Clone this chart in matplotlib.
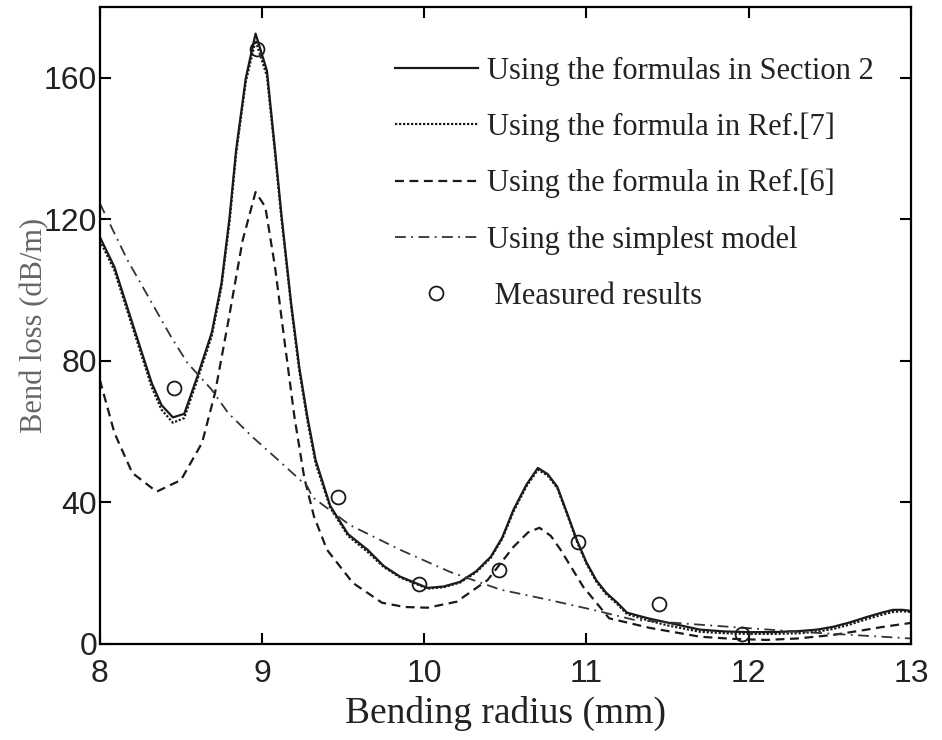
import matplotlib
matplotlib.use("Agg")
import matplotlib.pyplot as plt

# bending radius (mm) / bend loss (dB/m)
x_sec2 = [8.0, 8.09, 8.17, 8.24, 8.32, 8.38, 8.45, 8.52, 8.60, 8.69, 8.75, 8.80, 8.84,
          8.90, 8.96, 9.03, 9.08, 9.12, 9.18, 9.23, 9.28, 9.33, 9.42, 9.53, 9.65, 9.75,
          9.85, 10.02, 10.12, 10.22, 10.32, 10.41, 10.48, 10.55, 10.63, 10.70, 10.76,
          10.82, 10.88, 10.94, 11.0, 11.06, 11.12, 11.19, 11.25, 11.38, 11.5, 11.7,
          11.85, 12.0, 12.15, 12.31, 12.42, 12.52, 12.62, 12.73, 12.82, 12.89, 12.95, 13.0]
y_sec2 = [115, 106.5, 95, 85, 73.7, 67.5, 64, 65, 75.4, 88, 102, 120.7, 139.6,
          160, 172.5, 162, 139.6, 121, 96, 78, 64, 52, 39, 31, 26.6, 22,
          19, 15.8, 16.2, 17.5, 20.5, 24.6, 30, 37.9, 45, 49.7, 48,
          44.4, 37, 29.4, 23, 18, 14.5, 11.6, 8.8, 7.2, 6.0, 4.0,
          3.5, 3.3, 3.3, 3.6, 4.0, 4.8, 6.0, 7.6, 8.8, 9.6, 9.6, 9.3]

x_ref7 = [8.0, 8.09, 8.17, 8.24, 8.32, 8.38, 8.45, 8.52, 8.60, 8.69, 8.75, 8.80, 8.84,
          8.90, 8.96, 9.03, 9.08, 9.12, 9.18, 9.23, 9.28, 9.33, 9.42, 9.53, 9.65, 9.75,
          9.85, 10.02, 10.12, 10.22, 10.32, 10.41, 10.48, 10.55, 10.63, 10.70, 10.76,
          10.82, 10.88, 10.94, 11.0, 11.06, 11.12, 11.19, 11.25, 11.38, 11.5, 11.7,
          11.85, 12.0, 12.15, 12.31, 12.42, 12.52, 12.62, 12.73, 12.82, 12.89, 12.95, 13.0]
y_ref7 = [114, 105.5, 94, 84, 72.5, 66.2, 62.5, 63.8, 74.5, 87, 101, 119.5, 138.5,
          159, 170.5, 160.5, 138.5, 120, 95, 77, 63, 51, 38.5, 30.5, 26, 21.7,
          18.8, 15.6, 16, 17.3, 20.2, 24.3, 29.6, 37.4, 44.5, 49.2, 47.6,
          44, 36.6, 29, 22.6, 17.6, 14.1, 11.2, 8.4, 6.6, 5.2, 3.4,
          3.0, 2.8, 2.8, 3.0, 3.4, 4.2, 5.4, 7.0, 8.2, 9.0, 9.2, 9.0]

x_ref6 = [8.0, 8.09, 8.2, 8.35, 8.5, 8.63, 8.71, 8.79, 8.88, 8.96, 9.02, 9.08, 9.14,
          9.2, 9.26, 9.32, 9.4, 9.56, 9.74, 9.88, 10.02, 10.2, 10.39, 10.55, 10.64,
          10.71, 10.78, 10.84, 10.98, 11.14, 11.39, 11.7, 11.9, 12.11, 12.3, 12.52,
          12.7, 12.83, 13.0]
y_ref6 = [74.6, 59.6, 48.3, 43, 46.3, 56.8, 70.9, 90.7, 114, 127.7, 123.5, 106.5, 85,
          64, 47, 36, 26.6, 17.2, 11.6, 10.4, 10.2, 11.9, 18, 27.4, 31.5,
          32.8, 30.5, 26.6, 16.1, 7.2, 4.5, 2.0, 1.4, 1.1, 1.5, 2.5,
          3.8, 4.8, 5.9]

x_simple = [8.0, 8.17, 8.3, 8.44, 8.54, 8.69, 8.79, 8.94, 9.12, 9.28, 9.31, 9.54, 9.85,
            10.16, 10.47, 10.77, 11.04, 11.29, 11.7, 12.31, 12.93, 13.0]
y_simple = [124.5, 108.5, 98, 86.7, 79.4, 71.8, 65.3, 58.5, 51.1, 44.4, 41.5, 33.6, 26.6,
            20.3, 15.3, 12.4, 9.6, 6.8, 5.4, 3.4, 1.7, 1.5]

x_meas = [8.46, 8.97, 9.47, 9.97, 10.46, 10.95, 11.45, 11.96]
y_meas = [72.3, 168, 41.5, 17, 21, 28.8, 11.3, 2.8]

labels = ['Using the formulas in Section 2', 'Using the formula in Ref.[7]',
          'Using the formula in Ref.[6]', 'Using the simplest model', ' Measured results']

fig = plt.figure(figsize=(9.42, 7.4), dpi=100)
ax = fig.add_axes([0.106, 0.130, 0.861, 0.8605])

ax.plot(x_sec2, y_sec2, color='#1a1a1a', lw=1.6, ls='-', label=labels[0])
ax.plot(x_ref7, y_ref7, color='#1a1a1a', lw=1.6, ls=(0, (1, 0.8)), label=labels[1])
ax.plot(x_ref6, y_ref6, color='#1a1a1a', lw=1.6, ls=(0, (4, 2.5)), label=labels[2])
ax.plot(x_simple, y_simple, color='#333333', lw=1.3, ls=(0, (6, 3, 1, 3)), label=labels[3])
ax.plot(x_meas, y_meas, ls='none', marker='o', ms=10, mfc='none', mec='#1a1a1a',
        mew=1.3, label=labels[4])

ax.set_xlim(8, 13)
ax.set_ylim(0, 180)
ax.set_xticks([8, 9, 10, 11, 12, 13])
ax.set_yticks([0, 40, 80, 120, 160])
ax.tick_params(direction='in', length=8, width=1.5, top=True, right=True,
               labelsize=23, labelcolor='#222222')
ax.tick_params(axis='x', pad=11)
ax.tick_params(axis='y', pad=2)
for lab in ax.get_xticklabels() + ax.get_yticklabels():
    lab.set_fontfamily('Liberation Sans')
for s in ax.spines.values():
    s.set_linewidth(1.6)

ax.set_xlabel('Bending radius (mm)', fontfamily='Liberation Serif', fontsize=27,
              color='#222222', labelpad=5)
ax.set_ylabel('Bend loss (dB/m)', fontfamily='Liberation Serif', fontsize=22,
              color='#666666', labelpad=-4)

leg = ax.legend(loc='upper left', bbox_to_anchor=(0.364, 0.922), frameon=False,
                prop={'family': 'Liberation Serif', 'size': 22},
                handlelength=2.7, handletextpad=0.3, labelspacing=0.88,
                borderpad=0, borderaxespad=0)
for t in leg.get_texts():
    t.set_color('#222222')

fig.savefig('out.png', dpi=100)
